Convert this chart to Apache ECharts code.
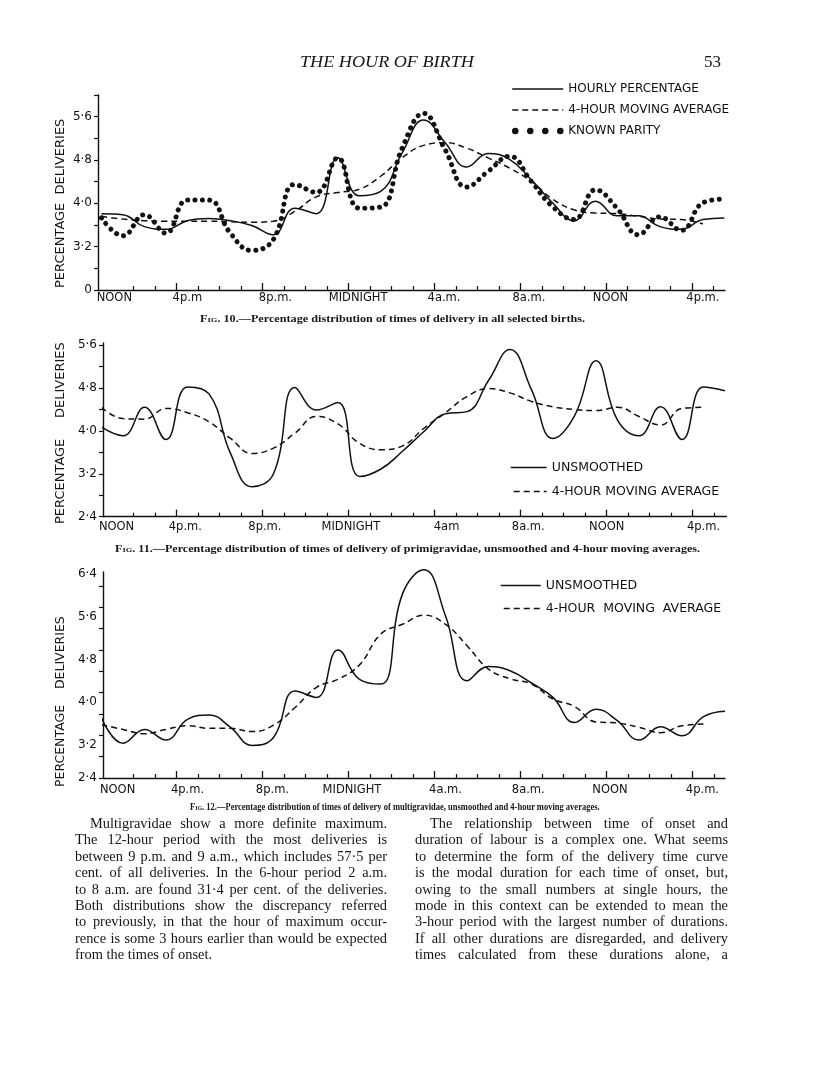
<!DOCTYPE html>
<html><head><meta charset="utf-8">
<script src="https://cdn.jsdelivr.net/npm/echarts@6/dist/echarts.min.js"></script>
<style>
html,body{margin:0;padding:0;background:#fff;}
#page{position:relative;width:816px;height:1090px;overflow:hidden;background:#fff;}
#chart{position:absolute;left:0;top:0;width:816px;height:1090px;}
.t{position:absolute;color:#161616;white-space:nowrap;transform-origin:0 50%;}
.hdr{font-family:"Liberation Serif",serif;font-style:italic;font-size:17px;}
.pg{font-family:"Liberation Serif",serif;font-size:17px;}
.cap{font-family:"Liberation Serif",serif;font-weight:bold;font-size:10px;line-height:11px;}
.sc{font-variant:small-caps;}
.yname{position:absolute;font-family:"DejaVu Sans",sans-serif;font-size:13px;color:#161616;white-space:pre;transform:rotate(-90deg);transform-origin:0 0;}
.col{position:absolute;font-family:"Liberation Serif",serif;font-size:14.4px;line-height:16.4px;color:#161616;}
.col div{text-align:justify;text-align-last:justify;white-space:nowrap;overflow:visible;height:16.4px;}
.col div.last{text-align-last:left;}
.col div.ind{padding-left:15px;}
</style></head>
<body>
<div id="page">
<div id="chart"></div>
<div class="t hdr" id="hdr" style="left:300px;top:52px;">THE HOUR OF BIRTH</div>
<div class="t pg" id="pgn" style="left:704px;top:52px;">53</div>
<div class="t cap" id="cap10" style="left:200px;top:313px;"><span class="sc">Fig.</span> 10.—Percentage distribution of times of delivery in all selected births.</div>
<div class="t cap" id="cap11" style="left:115px;top:543px;"><span class="sc">Fig.</span> 11.—Percentage distribution of times of delivery of primigravidae, unsmoothed and 4-hour moving averages.</div>
<div class="t cap" id="cap12" style="left:190px;top:801px;"><span class="sc">Fig.</span> 12.—Percentage distribution of times of delivery of multigravidae, unsmoothed and 4-hour moving averages.</div>
<div class="yname" style="left:52px;top:288px;">PERCENTAGE  DELIVERIES</div>
<div class="yname" style="left:52px;top:524px;">PERCENTAGE     DELIVERIES</div>
<div class="yname" style="left:52px;top:787px;font-size:12.5px;">PERCENTAGE    DELIVERIES</div>
<div class="col" style="left:75px;top:815px;width:312px;">
<div class="ind">Multigravidae show a more definite maximum.</div>
<div>The 12-hour period with the most deliveries is</div>
<div>between 9 p.m. and 9 a.m., which includes 57·5 per</div>
<div>cent. of all deliveries. In the 6-hour period 2 a.m.</div>
<div>to 8 a.m. are found 31·4 per cent. of the deliveries.</div>
<div>Both distributions show the discrepancy referred</div>
<div>to previously, in that the hour of maximum occur-</div>
<div>rence is some 3 hours earlier than would be expected</div>
<div class="last">from the times of onset.</div>
</div>
<div class="col" style="left:415px;top:815px;width:313px;">
<div class="ind">The relationship between time of onset and</div>
<div>duration of labour is a complex one. What seems</div>
<div>to determine the form of the delivery time curve</div>
<div>is the modal duration for each time of onset, but,</div>
<div>owing to the small numbers at single hours, the</div>
<div>mode in this context can be extended to mean the</div>
<div>3-hour period with the largest number of durations.</div>
<div>If all other durations are disregarded, and delivery</div>
<div>times calculated from these durations alone, a</div>
</div>
</div>
<script>
// ---- data (hours after noon, plotted at mid-hour) ----
const hours = [0.5,1.5,2.5,3.5,4.5,5.5,6.5,7.5,8.5,9.5,10.5,11.5,12.5,13.5,14.5,15.5,16.5,17.5,18.5,19.5,20.5,21.5,22.5,23.5,24.5,25.5,26.5,27.5,28.5,29.5];

const fig10Hourly = [3.81,3.79,3.57,3.52,3.68,3.72,3.68,3.59,3.42,3.91,3.81,4.84,4.14,4.22,4.93,5.54,5.12,4.67,4.92,4.81,4.44,4.01,3.68,4.04,3.77,3.77,3.57,3.52,3.70,3.73];
const fig10Moving = [3.76,3.71,3.68,3.67,3.67,3.67,3.66,3.65,3.67,3.85,4.12,4.20,4.26,4.50,4.84,5.07,5.12,5.02,4.84,4.65,4.41,4.08,3.88,3.82,3.81,3.76,3.71,3.70,3.62,null];
const fig10Parity = [3.73,3.40,3.79,3.45,4.06,4.06,3.45,3.13,3.33,4.35,4.20,4.84,3.91,3.93,5.02,5.66,4.99,4.30,4.59,4.87,4.41,3.94,3.70,4.25,3.91,3.42,3.75,3.50,4.01,4.08];

const fig11Unsmoothed = [4.07,3.91,4.44,3.84,4.82,4.69,3.58,2.96,3.20,4.81,4.39,4.53,3.15,3.29,3.62,3.99,4.32,4.36,4.94,5.52,4.77,3.86,4.28,5.31,4.20,3.91,4.45,3.84,4.82,4.75];
const fig11Moving = [4.44,4.23,4.22,4.42,4.34,4.17,3.86,3.58,3.68,3.96,4.27,4.13,3.77,3.65,3.72,4.05,4.34,4.64,4.79,4.71,4.55,4.45,4.40,4.38,4.44,4.27,4.11,4.42,4.44,null];

const fig12Unsmoothed = [3.71,3.23,3.49,3.29,3.68,3.76,3.53,3.19,3.34,4.21,4.09,4.98,4.43,4.34,6.03,6.48,5.62,4.40,4.67,4.59,4.36,4.09,3.62,3.87,3.65,3.29,3.54,3.37,3.73,3.83];
const fig12Moving = [3.58,3.49,3.41,3.49,3.56,3.51,3.51,3.45,3.57,3.90,4.28,4.43,4.70,5.28,5.46,5.63,5.46,5.06,4.62,4.44,4.34,4.06,3.92,3.63,3.61,3.53,3.43,3.56,3.59,null];

// tick labels
const fig10XLabels = ['NOON','4p.m','8p.m.','MIDNIGHT','4a.m.','8a.m.','NOON','4p.m.'];
const fig11XLabels = ['NOON','4p.m.','8p.m.','MIDNIGHT','4am','8a.m.','NOON','4p.m.'];
const fig12XLabels = ['NOON','4p.m.','8p.m.','MIDNIGHT','4a.m.','8a.m.','NOON','4p.m.'];
const fig10XLabelAt = [1.1,4.5,8.6,12.45,16.45,20.4,24.2,28.5];
const fig11XLabelAt = [1.2,4.4,8.1,12.1,16.55,20.35,24.0,28.5];
const fig12XLabelAt = [1.25,4.5,8.45,12.15,16.5,20.35,24.15,28.45];

const fig10YLabels = ['0','3·2','4·0','4·8','5·6'];
const fig10YLabelAt = [2.4,3.2,4.0,4.8,5.6];
const fig11YLabels = ['2·4','3·2','4·0','4·8','5·6'];
const fig11YLabelAt = [2.4,3.2,4.0,4.8,5.6];
const fig12YLabels = ['2·4','3·2','4·0','4·8','5·6','6·4'];
const fig12YLabelAt = [2.58,3.2,4.0,4.8,5.6,6.4];

const hourTicks = [2,3,5,6,7,9,10,11,13,14,15,17,18,19,21,22,23,25,26,27,29];
const majorTicks = [4,8,12,16,20,24,28];

// ---- styling ----
const INK = '#111';
const pairs = arr => hours.map((h,i)=>[h, arr[i]]);
const solid = {color:INK, width:1.5};
const dashed = {color:INK, width:1.5, type:[6,4]};
const dots = {color:INK, width:5, type:[0.01,7.3], cap:'round'};
const legendDots = {color:INK, width:6.5, type:[0.01,15], cap:'round', dashOffset:-3};

function lookup(labels, at){
  return v => { let bi=0, bd=1e9; at.forEach((a,i)=>{const d=Math.abs(a-v); if(d<bd){bd=d;bi=i;}}); return labels[bi]; };
}
function xAxis(gi, min, max, labels, at, margin){
  return {type:'value', gridIndex:gi, min, max, position:'bottom',
    axisLine:{show:true, onZero:false, lineStyle:{color:INK, width:1.4}},
    axisTick:{show:true, inside:true, length:4, customValues:hourTicks.filter(t=>t>min&&t<max), lineStyle:{color:INK,width:1.2}},
    axisLabel:{show:true, customValues:at, formatter:lookup(labels, at), margin,
      fontFamily:'DejaVu Sans', fontSize:11.5, color:INK},
    splitLine:{show:false}};
}
function xMajor(gi, min, max){
  return {type:'value', gridIndex:gi, min, max, position:'bottom',
    axisLine:{show:false, onZero:false},
    axisTick:{show:true, inside:true, length:7, customValues:majorTicks, lineStyle:{color:INK,width:1.3}},
    axisLabel:{show:false}, splitLine:{show:false}};
}
function yAxis(gi, min, max, labels, at, tickStep){
  const ticks=[]; for(let v=at[0]; v<=max+1e-6; v=Math.round((v+tickStep)*100)/100) ticks.push(v);
  return {type:'value', gridIndex:gi, min, max,
    axisLine:{show:true, onZero:false, lineStyle:{color:INK, width:1.4}},
    axisTick:{show:true, inside:false, length:4, customValues:ticks, lineStyle:{color:INK,width:1.2}},
    axisLabel:{show:true, customValues:at, formatter:lookup(labels, at), margin:6,
      fontFamily:'DejaVu Sans', fontSize:12, color:INK},
    splitLine:{show:false}};
}
function line(name, xi, data, ls){
  return {type:'line', name, xAxisIndex:xi, yAxisIndex:xi, data:pairs(data), smooth:0.45,
    symbol:'none', showSymbol:false, lineStyle:ls, itemStyle:{color:INK}, connectNulls:false,
    clip:false, silent:true, z:3};
}
const legendText = {fontFamily:'DejaVu Sans', fontSize:12, color:INK};
const noMark = {opacity:0};
const item = (name, ls) => ({name, itemStyle:noMark, lineStyle:ls});

const chart = echarts.init(document.getElementById('chart'), null, {renderer:'canvas'});
chart.setOption({
  animation:false,
  backgroundColor:'transparent',
  grid:[
    {left:98, top:95, width:627, height:195},
    {left:103, top:343, width:623.5, height:173.7},
    {left:103, top:572, width:622, height:206}
  ],
  xAxis:[
    xAxis(0, 0.34, 29.53, fig10XLabels, fig10XLabelAt, 2),
    xAxis(1, 0.57, 29.57, fig11XLabels, fig11XLabelAt, 4),
    xAxis(2, 0.57, 29.5, fig12XLabels, fig12XLabelAt, 6),
    xMajor(0, 0.34, 29.53),
    xMajor(1, 0.57, 29.57),
    xMajor(2, 0.57, 29.5)
  ],
  yAxis:[
    yAxis(0, 2.4, 6.0, fig10YLabels, fig10YLabelAt, 0.4),
    yAxis(1, 2.4, 5.64, fig11YLabels, fig11YLabelAt, 0.4),
    yAxis(2, 2.58, 6.44, fig12YLabels, fig12YLabelAt, 0.4)
  ],
  legend:[
    {orient:'vertical', left:509, top:83, padding:0, itemWidth:51, itemHeight:12, itemGap:9, selectedMode:false,
      itemStyle:noMark,
      data:[item('HOURLY PERCENTAGE', solid), item('4-HOUR MOVING AVERAGE', dashed), item('KNOWN PARITY', legendDots)],
      textStyle:legendText},
    {orient:'vertical', left:510, top:461, padding:0, itemWidth:36, itemHeight:12, itemGap:11, selectedMode:false,
      itemStyle:noMark,
      data:[item('UNSMOOTHED', solid), item('4-HOUR MOVING AVERAGE', dashed)],
      textStyle:Object.assign({},legendText,{fontSize:12.5})},
    {orient:'vertical', left:500, top:579, padding:0, itemWidth:40, itemHeight:12, itemGap:10, selectedMode:false,
      itemStyle:noMark,
      data:[item('UNSMOOTHED', solid), item('4-HOUR MOVING AVERAGE', dashed)],
      textStyle:Object.assign({},legendText,{fontSize:12.5}),
      formatter:n=>n.replace(/ /g,'  ')}
  ],
  series:[
    line('HOURLY PERCENTAGE', 0, fig10Hourly, solid),
    line('4-HOUR MOVING AVERAGE', 0, fig10Moving, dashed),
    line('KNOWN PARITY', 0, fig10Parity, dots),
    line('UNSMOOTHED', 1, fig11Unsmoothed, solid),
    line('4-HOUR MOVING AVERAGE', 1, fig11Moving, dashed),
    line('UNSMOOTHED', 2, fig12Unsmoothed, solid),
    line('4-HOUR MOVING AVERAGE', 2, fig12Moving, dashed)
  ]
});

// fit text widths to the page layout
function fit(id, w){ const el=document.getElementById(id); const s=w/el.scrollWidth; el.style.transform='scaleX('+s+')'; }
fit('hdr',174); fit('cap10',385); fit('cap11',585); fit('cap12',410);
</script>
</body></html>
